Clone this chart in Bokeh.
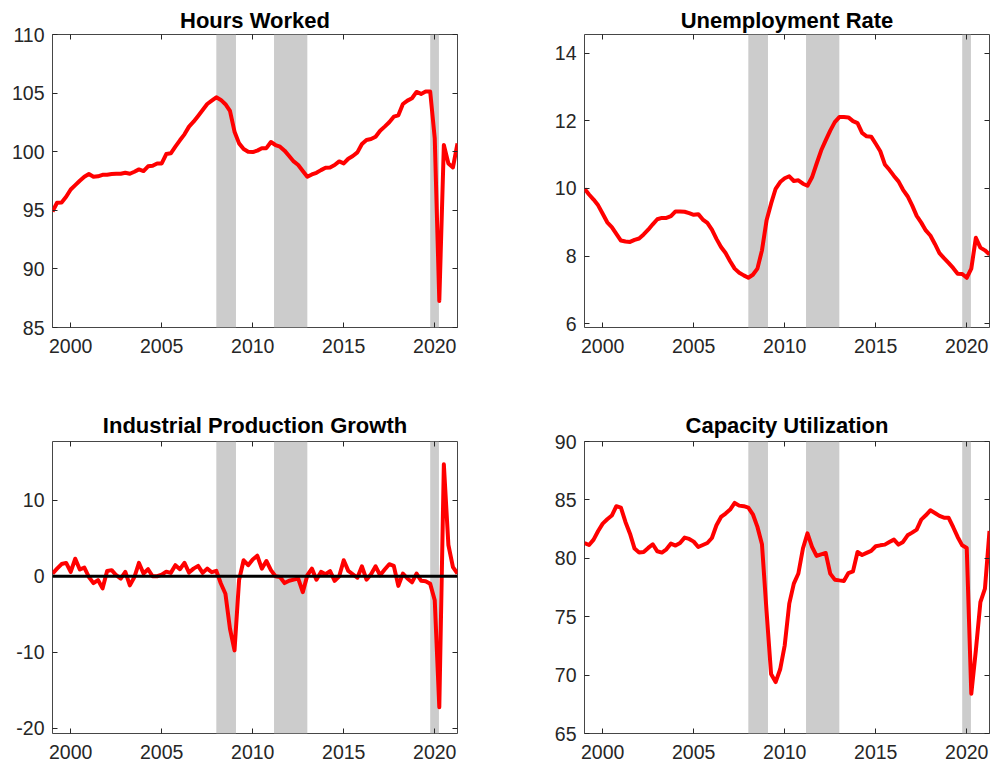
from bokeh.plotting import figure
from bokeh.models import FixedTicker, LinearAxis, BoxAnnotation, Span, Range1d
from bokeh.layouts import column, row
from bokeh.embed import file_html
from bokeh.resources import INLINE

# ---------------- data (quarterly, 1999Q1 .. 2021Q2) ----------------
years = list(range(1999, 2022))
quarter_offsets = [0.0, 0.25, 0.5, 0.75]
dates = [y + q for y in years for q in quarter_offsets][:90]

hours_worked = [
    94.9, 95.64, 95.67, 96.15,
    96.78, 97.15, 97.52, 97.86,
    98.09, 97.86, 97.9, 98.03,
    98.03, 98.09, 98.12, 98.12,
    98.2, 98.12, 98.29, 98.49,
    98.35, 98.75, 98.8, 99.0,
    99.0, 99.8, 99.86, 100.43,
    100.97, 101.48, 102.14, 102.56,
    103.05, 103.56, 104.07, 104.36,
    104.64, 104.42, 104.05, 103.48,
    101.71, 100.71, 100.23, 100.0,
    99.97, 100.09, 100.29, 100.3,
    100.83, 100.57, 100.43, 100.09,
    99.63, 99.17, 98.86, 98.35,
    97.86, 98.06, 98.2, 98.43,
    98.63, 98.66, 98.86, 99.17,
    99.0, 99.4, 99.63, 99.94,
    100.66, 101.0, 101.08, 101.28,
    101.79, 102.14, 102.51, 102.99,
    103.1, 104.07, 104.36, 104.56,
    105.1, 104.93, 105.13, 105.13,
    101.14, 87.27, 100.57, 99.0,
    98.66, 100.71,
]

unemployment_rate = [
    9.99, 9.82, 9.67, 9.5,
    9.25, 9.0, 8.86, 8.66,
    8.46, 8.43, 8.42, 8.48,
    8.52, 8.64, 8.78, 8.94,
    9.09, 9.13, 9.13, 9.18,
    9.32, 9.32, 9.31, 9.27,
    9.22, 9.24, 9.08, 8.98,
    8.78, 8.51, 8.27, 8.09,
    7.85, 7.63, 7.51, 7.43,
    7.36, 7.45, 7.63, 8.17,
    9.05, 9.55, 9.99, 10.19,
    10.3, 10.36, 10.22, 10.24,
    10.14, 10.08, 10.33, 10.73,
    11.12, 11.42, 11.71, 11.96,
    12.11, 12.11, 12.1, 11.99,
    11.93, 11.64, 11.54, 11.53,
    11.32, 11.1, 10.71, 10.55,
    10.37, 10.21, 9.96, 9.77,
    9.5, 9.19, 8.99, 8.76,
    8.61, 8.36, 8.09, 7.94,
    7.8, 7.65, 7.48, 7.47,
    7.36, 7.63, 8.54, 8.25,
    8.17, 8.05,
]

ip_growth = [
    0.35, 1.0, 1.6, 1.75,
    0.57, 2.3, 0.88, 1.14,
    -0.1, -0.9, -0.5, -1.6,
    0.7, 0.8, 0.13, -0.3,
    0.57, -1.2, -0.1, 1.75,
    0.35, 0.92, 0.0, 0.0,
    0.2, 0.6, 0.44, 1.45,
    0.92, 1.75, 0.48, 1.0,
    1.36, 0.44, 1.0, 0.53,
    0.7, -0.96, -2.3, -6.9,
    -9.74, -0.5, 2.1, 1.45,
    2.2, 2.7, 1.0, 2.0,
    0.8, 0.0, -0.1, -0.9,
    -0.6, -0.45, -0.3, -2.1,
    0.13, 1.0, -0.45, 0.57,
    0.26, 0.66, -0.6, 0.0,
    2.1, 0.7, 0.26, -0.2,
    1.3, -0.45, 0.26, 1.3,
    0.13, 0.88, 1.58, 1.36,
    -1.27, 0.35, -0.3, -0.8,
    0.35, -0.6, -0.65, -1.0,
    -3.16, -17.2, 14.7, 4.1,
    1.2, 0.35,
]

capacity_utilization = [
    81.31, 81.14, 81.6, 82.34,
    82.97, 83.34, 83.66, 84.46,
    84.34, 83.11, 82.11, 80.83,
    80.49, 80.54, 80.89, 81.2,
    80.6, 80.49, 80.77, 81.26,
    81.09, 81.31, 81.77, 81.66,
    81.43, 80.97, 81.14, 81.31,
    81.74, 82.83, 83.54, 83.83,
    84.17, 84.74, 84.51, 84.46,
    84.34, 83.77, 82.69, 81.2,
    75.5, 70.1, 69.4, 70.5,
    72.55, 76.12, 77.83, 78.7,
    80.84, 82.13, 80.97, 80.2,
    80.34, 80.46, 78.69, 78.17,
    78.11, 78.06, 78.74, 78.88,
    80.54, 80.28, 80.46, 80.63,
    81.03, 81.11, 81.17, 81.4,
    81.6, 81.17, 81.4, 81.97,
    82.2, 82.46, 83.31, 83.68,
    84.11, 83.88, 83.63, 83.48,
    83.48, 82.68, 81.83, 81.11,
    80.88, 68.4, 72.11, 76.25,
    77.4, 82.35,
]

# recession periods (shaded)
recession_start = [2008.0, 2011.17, 2019.75]
recession_end = [2009.08, 2013.0, 2020.23]

x_ticks = [2000, 2005, 2010, 2015, 2020]
x_limits = (1999.0, 2021.25)

titles = ["Hours Worked", "Unemployment Rate", "Industrial Production Growth", "Capacity Utilization"]
y_limits = [(85, 110), (5.89, 14.55), (-20.66, 17.7), (65, 90)]
y_ticks = [[85, 90, 95, 100, 105, 110], [6, 8, 10, 12, 14], [-20, -10, 0, 10], [65, 70, 75, 80, 85, 90]]
zero_line = [None, None, 0, None]

FONT = "Liberation Sans"
AX_COLOR = "#262626"


def make_panel(title, xs, ys, ylim, yt, zero, width, height, bl, br, bt, bb, title_standoff):
    p = figure(width=width, height=height, output_backend="svg", toolbar_location=None,
               x_range=Range1d(*x_limits), y_range=Range1d(*ylim),
               min_border_left=bl, min_border_right=br, min_border_top=bt, min_border_bottom=bb,
               background_fill_color="white", border_fill_color="white")
    p.title.text = title
    p.title.align = "center"
    p.title.text_font = FONT
    p.title.text_font_size = "22px"
    p.title.text_font_style = "bold"
    p.title.text_color = "black"
    p.title.standoff = title_standoff
    p.grid.visible = False
    p.outline_line_color = AX_COLOR
    p.outline_line_width = 1
    p.outline_line_alpha = 0.85

    for s, e in zip(recession_start, recession_end):
        p.add_layout(BoxAnnotation(left=s, right=e, fill_color="#cccccc", fill_alpha=1.0,
                                   line_color=None, level="underlay"))

    p.line(xs, ys, line_color="#ff0000", line_width=4, line_join="round")
    if zero is not None:
        p.add_layout(Span(location=zero, dimension="width", line_color="black", line_width=3))

    overrides = {t: str(t) for t in yt}
    for ax, ticks in ((p.xaxis[0], x_ticks), (p.yaxis[0], yt)):
        ax.ticker = FixedTicker(ticks=ticks)
        ax.minor_tick_line_color = None
        ax.major_tick_in = 5
        ax.major_tick_out = 0
        ax.major_tick_line_color = AX_COLOR
        ax.axis_line_color = None
        ax.major_label_text_font = FONT
        ax.major_label_text_font_size = "19.5px"
        ax.major_label_text_color = AX_COLOR
    p.yaxis[0].major_label_overrides = overrides
    p.yaxis[0].major_label_standoff = 8
    p.xaxis[0].major_label_standoff = 11

    for loc, ticks in (("right", yt), ("above", x_ticks)):
        ax = LinearAxis(ticker=FixedTicker(ticks=ticks), major_tick_in=5, major_tick_out=0,
                        axis_line_color=None, minor_tick_line_color=None,
                        major_tick_line_color=AX_COLOR, major_label_text_font_size="0px",
                        major_label_text_color=None, major_label_standoff=0)
        p.add_layout(ax, loc)
    return p


series = [hours_worked, unemployment_rate, ip_growth, capacity_utilization]
panels = []
for i in range(4):
    left_col = (i % 2 == 0)
    top_row = (i < 2)
    w = 495 if left_col else 496
    h = 390 if top_row else 377
    bl = 52 if left_col else 89
    br = 38 if left_col else 2
    bt = 34 if top_row else 51
    bb = 63 if top_row else 34
    panels.append(make_panel(titles[i], dates, series[i], y_limits[i], y_ticks[i], zero_line[i],
                             w, h, bl, br, bt, bb, 4 if top_row else 7))

layout = column(row(panels[0], panels[1]), row(panels[2], panels[3]))
open("out.html", "w").write(file_html(layout, INLINE))
